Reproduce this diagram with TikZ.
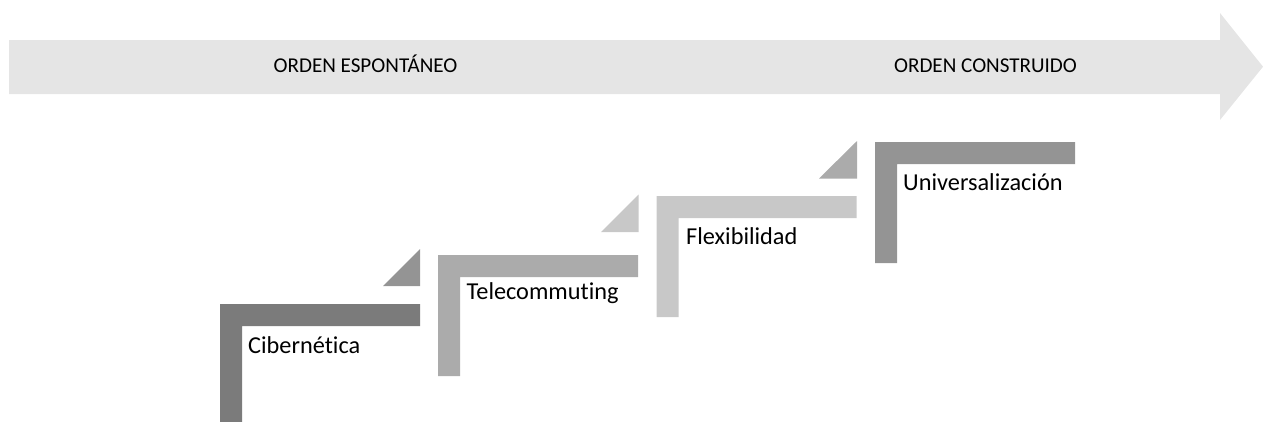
\documentclass[tikz,border=0pt]{standalone}
\usepackage{fontspec}
\setmainfont[Ligatures=NoCommon]{Carlito}
\definecolor{gA}{HTML}{7B7B7B}
\definecolor{gB}{HTML}{949494}
\definecolor{gC}{HTML}{ABABAB}
\definecolor{gD}{HTML}{C8C8C8}
\definecolor{gE}{HTML}{E5E5E5}
\tikzset{
  steplabel/.style={anchor=base west,inner sep=0pt,font=\fontsize{24.3}{28}\selectfont,text=black},
  bandlabel/.style={anchor=base,inner sep=0pt,font=\fontsize{21.1}{25}\selectfont,text=black},
}
\newcommand{\elbow}[3]{\fill[#3] (#1,#2) -- ++(200,0) -- ++(0,22) -- ++(-178,0) -- ++(0,99) -- ++(-22,0) -- cycle;}
\begin{document}
\begin{tikzpicture}[x=1pt,y=-1pt]
\useasboundingbox (0,0) rectangle (1263,421);
\clip (0,0) rectangle (1263,421);
\fill[gE] (9,40) -- (1220,40) -- (1220,13) -- (1263,66.7) -- (1220,120) -- (1220,94) -- (9,94) -- cycle;
\elbow{220}{304}{gA}
\elbow{438}{255}{gC}
\elbow{656.5}{196}{gD}
\elbow{875}{142}{gB}
\fill[gB] (383,286) -- (420,286) -- (420,249) -- cycle;
\fill[gD] (601,232) -- (638.5,232) -- (638.5,194.5) -- cycle;
\fill[gC] (819,178.5) -- (857,178.5) -- (857,141) -- cycle;
\node[bandlabel] (spont) at (365.5,72.5) {ORDEN ESPONTÁNEO};
\node[bandlabel] (constr) at (985.5,72.5) {ORDEN CONSTRUIDO};
\node[steplabel] (cib) at (248,353) {Cibernética};
\node[steplabel] (tel) at (466.5,299.5) {Telecommuting};
\node[steplabel] (fle) at (686,244) {Flexibilidad};
\node[steplabel] (uni) at (903,190) {Universalización};
\end{tikzpicture}
\end{document}
